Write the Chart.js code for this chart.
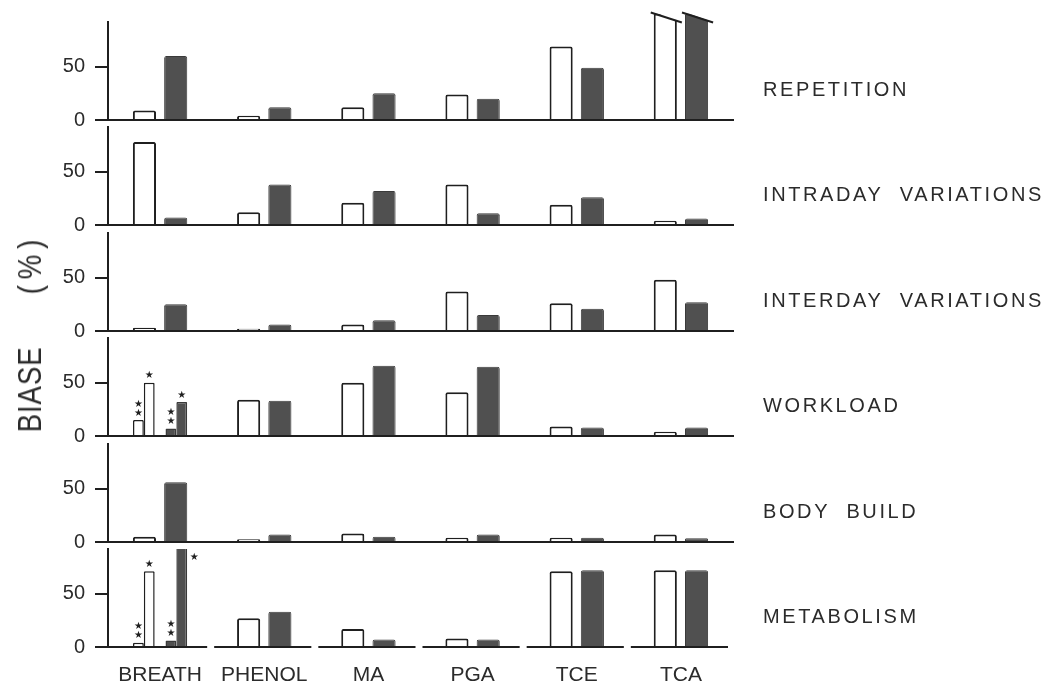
<!DOCTYPE html>
<html>
<head>
<meta charset="utf-8">
<title>BIASE (%)</title>
<script src="https://cdn.jsdelivr.net/npm/chart.js@4.4.1/dist/chart.umd.min.js"></script>
<style>
  body { margin: 0; background: #fff; }
  #figure { position: relative; width: 1044px; height: 686px; overflow: hidden; }
  .panel { position: absolute; left: 0; width: 1044px; }
  #ytitle {
    position: absolute; left: 30px; top: 333px;
    transform: translate(-50%, -50%) rotate(-90deg) scaleX(0.84);
    font: 33px 'Liberation Sans', Arial, sans-serif; color: #2b2b2b;
    white-space: nowrap; letter-spacing: 1px;
  }
  #ytitle span + span { margin-left: 62px; letter-spacing: 7px; }
</style>
</head>
<body>
<div id="figure">
  <div id="ytitle"><span>BIASE</span><span>(%)</span></div>
</div>
<script>
// Biais par facteur et par indicateur
const categories = ['BREATH', 'PHENOL', 'MA', 'PGA', 'TCE', 'TCA'];
const factors = ['REPETITION', 'INTRADAY  VARIATIONS', 'INTERDAY  VARIATIONS', 'WORKLOAD', 'BODY  BUILD', 'METABOLISM'];
const yTicks = [0, 50];
const yMax = 92;

// barres blanches / barres grises (100 = hors echelle)
const openRepetition   = [9, 4, 12, 24, 69, 100];
const filledRepetition = [60, 12, 25, 20, 49, 100];
const openIntraday     = [78, 12, 21, 38, 19, 4];
const filledIntraday   = [7, 38, 32, 11, 26, 6];
const openInterday     = [3, 2, 6, 37, 26, 48];
const filledInterday   = [25, 6, 10, 15, 21, 27];
const openWorkload     = [null, 34, 50, 41, 9, 4];
const filledWorkload   = [null, 33, 66, 65, 8, 8];
const openBody         = [5, 2.5, 8, 4, 4, 7];
const filledBody       = [56, 7, 5, 7, 4, 3.5];
const openMetabolism   = [null, 27, 17, 8, 71, 72];
const filledMetabolism = [null, 33, 7, 7, 72, 72];

// BREATH coupe en deux sous-barres, marquees ** et *
const breathMarks = ['**', '*'];
const breathOpenWorkload     = [15, 50];
const breathFilledWorkload   = [7, 32];
const breathOpenMetabolism   = [4, 71];
const breathFilledMetabolism = [6, 100];

const panels = [
  { label: factors[0], open: openRepetition, filled: filledRepetition, broken: true },
  { label: factors[1], open: openIntraday, filled: filledIntraday },
  { label: factors[2], open: openInterday, filled: filledInterday },
  { label: factors[3], open: openWorkload, filled: filledWorkload, splitOpen: breathOpenWorkload, splitFilled: breathFilledWorkload },
  { label: factors[4], open: openBody, filled: filledBody },
  { label: factors[5], open: openMetabolism, filled: filledMetabolism, splitOpen: breathOpenMetabolism, splitFilled: breathFilledMetabolism }
];

const ink = '#1f1f1f';
const grey = '#505050';
const textColor = '#2b2b2b';
const fontFamily = "'Liberation Sans', Arial, sans-serif";

// mise en page des panneaux (pixels)
const firstBase = 120;
const pitch = 105.4;
const plotHeight = 98;
const padTop = 22;
const axisLeft = 108;
const axisRight = 733;

const openStyle = { backgroundColor: '#ffffff', borderColor: ink, borderWidth: 2 };
const filledStyle = { backgroundColor: grey, borderColor: '#3a3a3a', borderWidth: 1 };

function makeDatasets(p) {
  const base = { categoryPercentage: 0.6, barPercentage: 0.74, skipNull: true, borderRadius: 2, clip: p.broken ? false : undefined };
  const open = { ...base, ...openStyle, data: p.open };
  const filled = { ...base, ...filledStyle, data: p.filled };
  if (!p.splitOpen) return [open, filled];

  const onlyBreath = v => categories.map((c, i) => (i === 0 ? v : null));
  const narrow = { categoryPercentage: 0.52, barPercentage: 1, skipNull: true, borderRadius: 1 };
  const sub = (v, mark, style) => ({ ...narrow, ...style, borderWidth: 1.5, data: onlyBreath(v), marks: onlyBreath(mark) });
  return [
    open,
    sub(p.splitOpen[0], breathMarks[0], openStyle),
    sub(p.splitOpen[1], breathMarks[1], openStyle),
    // case vide entre les deux paires
    { ...narrow, data: onlyBreath(0), backgroundColor: 'rgba(0,0,0,0)', borderWidth: 0 },
    filled,
    sub(p.splitFilled[0], breathMarks[0], filledStyle),
    sub(p.splitFilled[1], breathMarks[1], filledStyle)
  ];
}

// nom du facteur a droite du panneau
const factorLabel = {
  id: 'factorLabel',
  afterDraw(chart, args, opts) {
    const { ctx, chartArea } = chart;
    ctx.save();
    ctx.font = '20px ' + fontFamily;
    ctx.letterSpacing = '2.6px';
    ctx.fillStyle = textColor;
    ctx.textBaseline = 'middle';
    ctx.fillText(opts.text, chartArea.right + 30, chartArea.bottom - 29.5);
    ctx.restore();
  }
};

// etoiles au-dessus des sous-barres
const starMarks = {
  id: 'starMarks',
  afterDatasetsDraw(chart) {
    const { ctx, chartArea } = chart;
    ctx.save();
    ctx.font = "10px 'DejaVu Sans'";
    ctx.fillStyle = ink;
    ctx.textAlign = 'center';
    ctx.textBaseline = 'middle';
    chart.data.datasets.forEach((ds, di) => {
      if (!ds.marks) return;
      chart.getDatasetMeta(di).data.forEach((bar, i) => {
        const mark = ds.marks[i];
        if (!mark) return;
        if (bar.y < chartArea.top) {
          // barre qui sort du panneau : etoile a cote
          ctx.fillText('★', bar.x + bar.width / 2 + 7, chartArea.top + 8);
          return;
        }
        for (let k = 0; k < mark.length; k++) {
          ctx.fillText('★', bar.x, bar.y - 7 - k * 9);
        }
      });
    });
    ctx.restore();
  }
};

// sommet coupe en biais pour les valeurs hors echelle
const brokenTops = {
  id: 'brokenTops',
  afterDatasetsDraw(chart, args, opts) {
    if (!opts.enabled) return;
    const { ctx } = chart;
    const max = chart.scales.y.max;
    ctx.save();
    chart.data.datasets.forEach((ds, di) => {
      chart.getDatasetMeta(di).data.forEach((bar, i) => {
        if (ds.data[i] == null || ds.data[i] <= max) return;
        const L = bar.x - bar.width / 2, R = bar.x + bar.width / 2, T = bar.y;
        ctx.fillStyle = '#ffffff';
        ctx.beginPath();
        ctx.moveTo(L - 2, T - 2);
        ctx.lineTo(R + 3, T - 2);
        ctx.lineTo(R + 3, T + 8);
        ctx.closePath();
        ctx.fill();
        ctx.strokeStyle = ink;
        ctx.lineWidth = 2;
        ctx.beginPath();
        ctx.moveTo(L - 3, T - 1);
        ctx.lineTo(R + 5, T + 9);
        ctx.stroke();
      });
    });
    ctx.restore();
  }
};

// ligne de base en segments, un par indicateur
const splitBaseline = {
  id: 'splitBaseline',
  afterDatasetsDraw(chart, args, opts) {
    if (!opts.enabled) return;
    const { ctx, chartArea } = chart;
    const x = chart.scales.x;
    const half = (x.getPixelForValue(1) - x.getPixelForValue(0)) / 2;
    ctx.save();
    ctx.strokeStyle = ink;
    ctx.lineWidth = 2;
    ctx.beginPath();
    categories.forEach((c, i) => {
      const cx = x.getPixelForValue(i);
      const left = i === 0 ? chartArea.left - 12 : cx - half + 2;
      ctx.moveTo(left, chartArea.bottom);
      ctx.lineTo(cx + half - 5, chartArea.bottom);
    });
    ctx.stroke();
    ctx.restore();
  }
};

const figure = document.getElementById('figure');

panels.forEach((p, idx) => {
  const last = idx === panels.length - 1;
  const xHeight = last ? 60 : 22;
  const baseline = firstBase + idx * pitch;

  const wrap = document.createElement('div');
  wrap.className = 'panel';
  wrap.style.top = (baseline - plotHeight - padTop) + 'px';
  wrap.style.height = (padTop + plotHeight + xHeight) + 'px';
  const canvas = document.createElement('canvas');
  wrap.appendChild(canvas);
  figure.insertBefore(wrap, figure.firstChild);

  new Chart(canvas.getContext('2d'), {
    type: 'bar',
    data: { labels: categories, datasets: makeDatasets(p) },
    plugins: [factorLabel, starMarks, brokenTops, splitBaseline],
    options: {
      responsive: true,
      maintainAspectRatio: false,
      animation: false,
      events: [],
      layout: { padding: { top: padTop, right: 1044 - axisRight, left: 0, bottom: 0 } },
      plugins: {
        legend: { display: false },
        tooltip: { enabled: false },
        factorLabel: { text: p.label },
        brokenTops: { enabled: !!p.broken },
        splitBaseline: { enabled: last }
      },
      scales: {
        x: {
          z: 1,
          grid: { display: false, drawTicks: false },
          border: { display: !last, color: ink, width: 2 },
          ticks: { display: last, color: textColor, font: { family: fontFamily, size: 21 }, padding: 16 },
          afterFit: s => { s.height = xHeight; }
        },
        y: {
          min: 0,
          max: yMax,
          afterBuildTicks: s => { s.ticks = yTicks.map(v => ({ value: v })); },
          afterFit: s => { s.width = axisLeft; },
          grid: { drawOnChartArea: false, tickLength: 13, color: ink, lineWidth: 2 },
          border: { display: true, color: ink, width: 2 },
          ticks: { color: textColor, font: { family: fontFamily, size: 20 }, padding: 10 }
        }
      }
    }
  });
});
</script>
</body>
</html>
